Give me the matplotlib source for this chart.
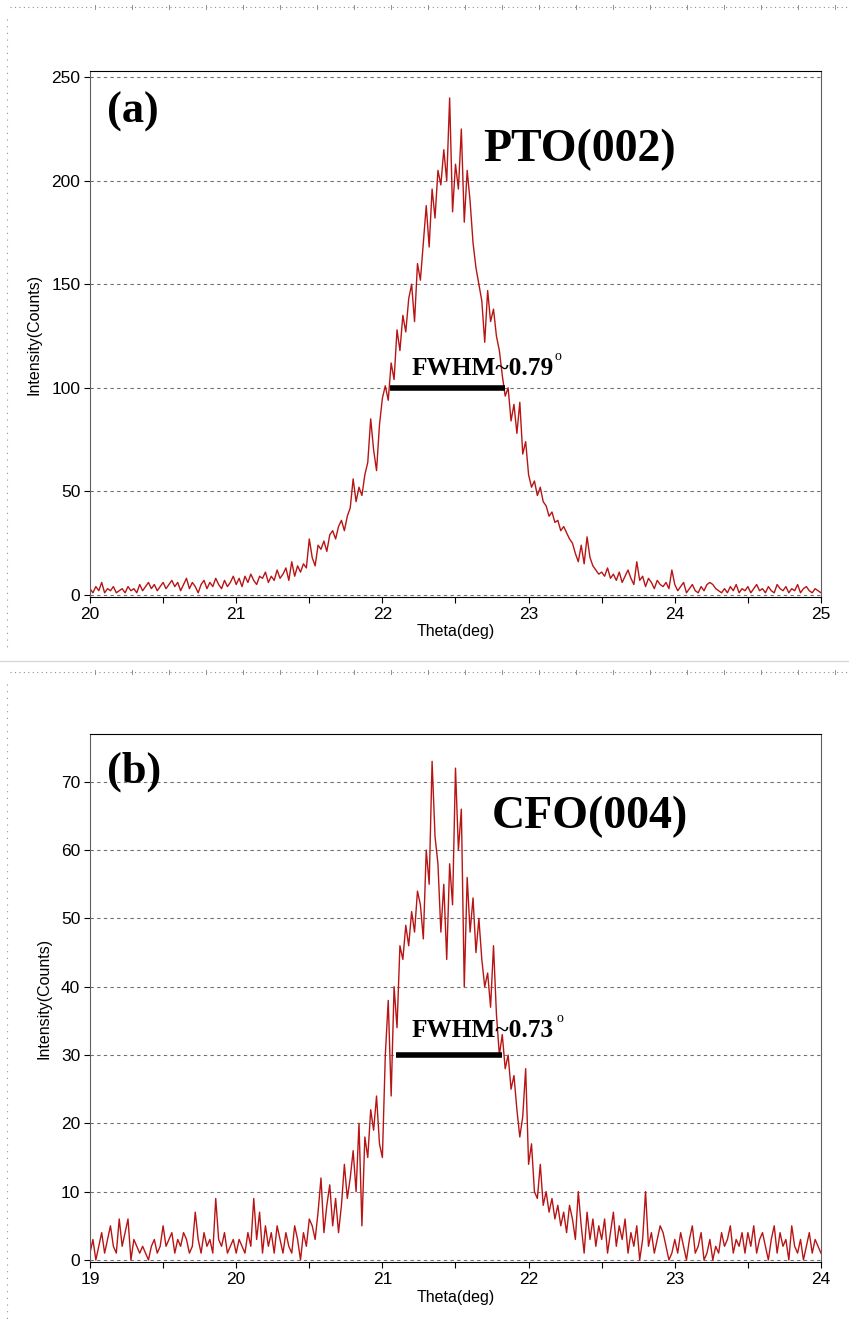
import numpy as np
import matplotlib.pyplot as plt
from matplotlib.lines import Line2D
from matplotlib.ticker import MultipleLocator

# scan grid: 0.02 deg step
step = 0.02

# (a) PTO(002), theta 20.00 ... 25.00
theta_a_start = 20.0
counts_a = [
    3, 1, 4, 2, 6, 1, 3, 2, 4, 1, 2, 3, 1, 4, 2, 3, 1, 5, 2, 4, 6, 3, 5, 2, 4,
    6, 3, 5, 7, 4, 6, 2, 5, 8, 3, 6, 4, 1, 5, 7, 3, 6, 4, 8, 5, 3, 7, 4, 6, 9,
    5, 8, 4, 9, 6, 10, 7, 5, 9, 8, 11, 6, 9, 7, 12, 8, 10, 13, 7, 16, 9, 14, 11, 15, 13,
    27, 18, 14, 24, 22, 26, 21, 29, 31, 27, 33, 36, 31, 38, 42, 56, 45, 52, 48, 58, 64, 85, 70, 60, 82,
    95, 101, 94, 112, 104, 128, 118, 135, 127, 143, 150, 132, 160, 152, 170, 188, 168, 196, 182, 205, 198, 215, 200, 240, 185,
    208, 196, 225, 180, 205, 190, 170, 158, 150, 142, 122, 147, 132, 138, 125, 118, 106, 96, 100, 84, 92, 78, 93, 68, 74,
    58, 52, 55, 48, 52, 45, 43, 38, 40, 35, 36, 31, 33, 30, 27, 25, 20, 16, 24, 15, 28, 18, 14, 12, 10,
    11, 9, 13, 8, 10, 7, 11, 6, 9, 12, 8, 5, 16, 7, 9, 4, 8, 6, 3, 7, 5, 4, 6, 3, 12,
    5, 2, 4, 6, 1, 3, 5, 2, 1, 4, 2, 5, 6, 5, 3, 2, 1, 3, 1, 4, 2, 5, 1, 3, 2,
    4, 1, 3, 5, 2, 3, 1, 4, 2, 1, 5, 3, 2, 4, 1, 3, 2, 5, 1, 3, 4, 2, 1, 3, 2,
    1,
]

# (b) CFO(004), theta 19.00 ... 24.00
theta_b_start = 19.0
counts_b = [
    1, 3, 0, 2, 4, 1, 3, 5, 2, 1, 6, 2, 4, 6, 0, 3, 2, 1, 2, 1, 0, 2, 3, 1, 2,
    5, 2, 3, 4, 1, 3, 2, 4, 3, 1, 2, 7, 3, 1, 4, 2, 3, 1, 9, 3, 2, 4, 1, 2, 3,
    1, 3, 2, 1, 4, 2, 9, 3, 7, 1, 5, 2, 4, 1, 5, 3, 1, 4, 2, 1, 5, 3, 0, 4, 2,
    6, 5, 3, 7, 12, 4, 8, 11, 5, 9, 4, 8, 14, 9, 12, 16, 10, 20, 5, 18, 15, 22, 19, 24, 17,
    15, 30, 38, 24, 40, 34, 46, 44, 49, 46, 51, 48, 54, 52, 47, 60, 55, 73, 62, 58, 48, 55, 44, 58, 52,
    72, 60, 66, 40, 56, 48, 53, 45, 50, 44, 40, 42, 37, 46, 36, 30, 33, 28, 30, 25, 27, 22, 18, 21, 28,
    14, 17, 10, 9, 14, 8, 10, 7, 9, 6, 8, 5, 7, 4, 8, 6, 3, 10, 5, 1, 7, 3, 6, 2, 5,
    3, 6, 1, 4, 7, 2, 5, 3, 6, 1, 4, 2, 5, 0, 3, 10, 2, 4, 1, 3, 5, 4, 2, 0, 1,
    3, 1, 4, 2, 0, 3, 5, 1, 2, 4, 0, 1, 3, 0, 2, 1, 4, 2, 3, 5, 1, 3, 2, 4, 1,
    4, 2, 5, 1, 3, 4, 2, 0, 3, 5, 1, 4, 2, 3, 0, 5, 2, 1, 3, 0, 2, 4, 1, 3, 2,
    1,
]

panels = [
    dict(start=theta_a_start, counts=counts_a, ylim=(-1, 253), ystep=50,
         tag='(a)', peak='PTO(002)', fwhm=(22.05, 22.84, 100), fwhm_txt='FWHM~0.79',
         txt_xy=(22.20, 106), deg_xy=(23.18, 115), tag_y=0.922, peak_xy=(0.538, 0.850),
         rect=[0.106, 0.5488, 0.861, 0.3975]),
    dict(start=theta_b_start, counts=counts_b, ylim=(-0.3, 77), ystep=10,
         tag='(b)', peak='CFO(004)', fwhm=(21.09, 21.82, 30), fwhm_txt='FWHM~0.73',
         txt_xy=(21.20, 32.6), deg_xy=(22.19, 35.4), tag_y=0.928, peak_xy=(0.55, 0.843),
         rect=[0.106, 0.0461, 0.861, 0.3991]),
]

sans = ['Liberation Sans', 'DejaVu Sans']
serif = ['Liberation Serif', 'DejaVu Serif']

fig = plt.figure(figsize=(8.49, 13.23), dpi=100)

for p in panels:
    y = np.array(p['counts'])
    x = p['start'] + step * np.arange(len(y))
    ax = fig.add_axes(p['rect'])
    ax.plot(x, y, color='#b81414', lw=1.0)
    ax.set_xlim(p['start'], p['start'] + 5)
    ax.set_ylim(*p['ylim'])
    ax.xaxis.set_major_locator(MultipleLocator(1))
    ax.xaxis.set_minor_locator(MultipleLocator(0.5))
    ax.yaxis.set_major_locator(MultipleLocator(p['ystep']))
    ax.yaxis.grid(True, color='#707070', ls=(0, (3, 3)), lw=0.8)
    ax.set_axisbelow(True)
    ax.tick_params(which='both', direction='out', length=4, width=0.8, labelsize=12.5, pad=3)
    for lab in ax.get_xticklabels() + ax.get_yticklabels():
        lab.set_family(sans)
    for s in ['left', 'right']:
        ax.spines[s].set_color('#606060')
    ax.set_xlabel('Theta(deg)', family=sans, fontsize=11.5, labelpad=2)
    ax.set_ylabel('Intensity(Counts)', family=sans, fontsize=11.5, labelpad=7)

    x0, x1, yb = p['fwhm']
    ax.plot([x0, x1], [yb, yb], color='black', lw=4, solid_capstyle='butt')
    ax.text(*p['txt_xy'], p['fwhm_txt'], family=serif, fontweight='bold', fontsize=18.3,
            va='baseline', ha='left')
    ax.text(*p['deg_xy'], 'o', family=serif, fontsize=10, va='center', ha='left')
    ax.text(0.023, p['tag_y'], p['tag'], transform=ax.transAxes, family=serif,
            fontweight='bold', fontsize=32, va='center', ha='left')
    ax.text(*p['peak_xy'], p['peak'], transform=ax.transAxes, family=serif,
            fontweight='bold', fontsize=33, va='center', ha='left')

# page borders like the original export
W, H = 849, 1323
def fx(px):
    return px / W
def fy(py):
    return 1 - py / H

for top, bottom in [(7, 650), (672, 1323)]:
    fig.add_artist(Line2D([fx(10), fx(849)], [fy(top), fy(top)], color='#909090', lw=0.8, ls=(0, (1, 3))))
    fig.add_artist(Line2D([fx(7), fx(7)], [fy(top + 12), fy(bottom)], color='#909090', lw=0.8, ls=(0, (1, 5))))
    for tx in np.arange(95, 849, 37):
        fig.add_artist(Line2D([fx(tx), fx(tx)], [fy(top - 2), fy(top + 2)], color='#909090', lw=0.7))
fig.add_artist(Line2D([0, 1], [fy(661), fy(661)], color='#d8d8d8', lw=1))

fig.savefig('out.png', dpi=100)
